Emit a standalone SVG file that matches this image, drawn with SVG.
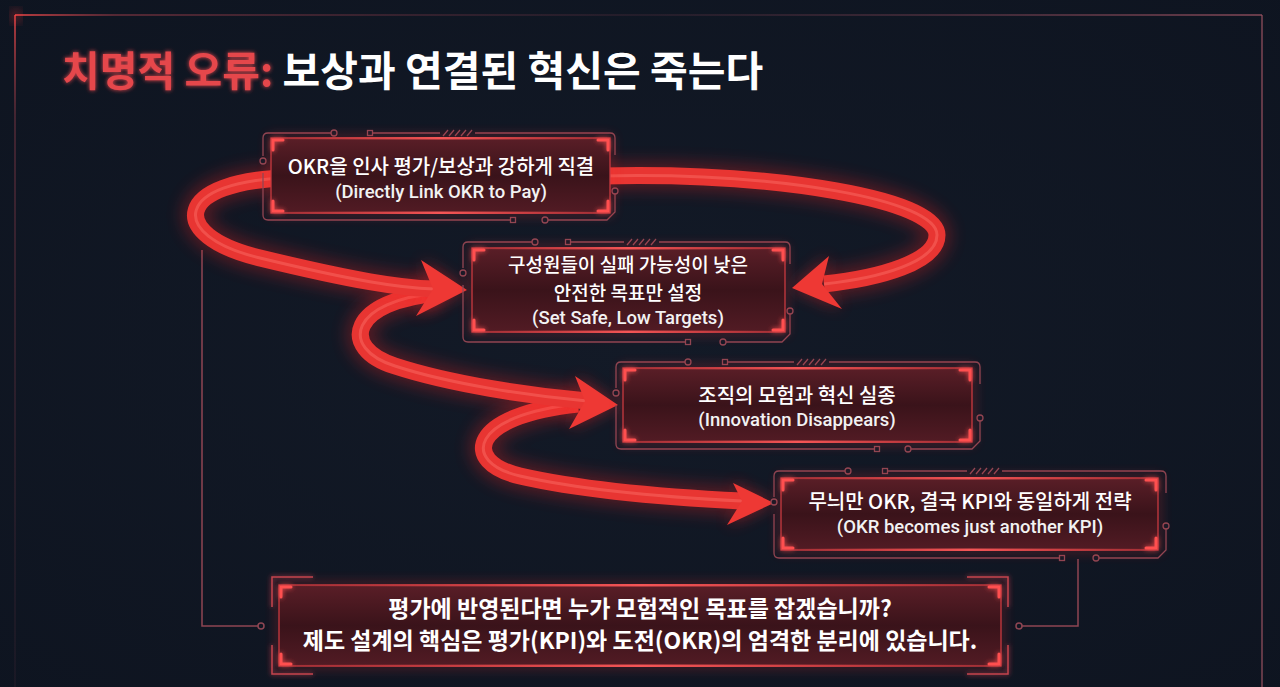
<svg xmlns="http://www.w3.org/2000/svg" width="1280" height="687" viewBox="0 0 1280 687">
<defs>
<style>
.kr{font-family:"Noto Sans CJK KR","Noto Sans",sans-serif}
.t1{font-family:"Noto Sans CJK KR","Noto Sans",sans-serif;font-size:20px;font-weight:500;fill:#ffffff;text-anchor:middle}
.t1s{font-size:19px}
.t2{font-family:Roboto,"Noto Sans CJK KR",sans-serif;font-size:18.5px;font-weight:500;fill:#f2f2f2;text-anchor:middle}
.t3{font-family:"Noto Sans CJK KR","Noto Sans",sans-serif;font-size:23px;font-weight:700;fill:#ffffff;text-anchor:middle}
.frame{fill:none;stroke:#8e4653;stroke-width:1.3}
.dot{fill:#111826;stroke:#8e4653;stroke-width:1.3}
.inner{fill:url(#boxfill);stroke:#c9393f;stroke-width:1.3}
.halo{fill:none;stroke:#ff3030;stroke-width:4;opacity:.45;filter:url(#blur6)}
.acc{fill:none;stroke:#ff5050;stroke-width:3;stroke-linecap:round;filter:url(#glow)}
.edge{fill:url(#edgeGrad)}
.bandglow{fill:none;stroke:#ff2424;stroke-width:28;opacity:.28;filter:url(#blur8)}
.band{fill:none;stroke:#e83532;stroke-width:17}
.core{fill:none;stroke:#ff7a70;stroke-width:3;opacity:.4}
.head{fill:#ee3834}
.headglow{fill:#ff2a2a;opacity:.45;filter:url(#blur8)}
.circ{fill:none;stroke:#8e4653;stroke-width:1.5}
.brk{fill:none;stroke:#c2464f;stroke-width:1.5;filter:url(#glow)}
</style>
<linearGradient id="boxfill" x1="0" y1="0" x2="0" y2="1">
<stop offset="0" stop-color="#5a1e27"/>
<stop offset="0.5" stop-color="#3a131a"/>
<stop offset="1" stop-color="#521b24"/>
</linearGradient>
<linearGradient id="edgeGrad" x1="0" y1="0" x2="1" y2="0">
<stop offset="0" stop-color="#ff4848" stop-opacity="0"/>
<stop offset="0.5" stop-color="#ff5a5a" stop-opacity="0.9"/>
<stop offset="1" stop-color="#ff4848" stop-opacity="0"/>
</linearGradient>
<linearGradient id="topLine" gradientUnits="userSpaceOnUse" x1="15" y1="0" x2="1262" y2="0">
<stop offset="0" stop-color="#ff4a4a" stop-opacity="0.95"/>
<stop offset="0.08" stop-color="#a8404c" stop-opacity="0.6"/>
<stop offset="0.5" stop-color="#5a3040" stop-opacity="0.35"/>
<stop offset="1" stop-color="#9a5262" stop-opacity="0.85"/>
</linearGradient>
<linearGradient id="leftLine" gradientUnits="userSpaceOnUse" x1="0" y1="15" x2="0" y2="687">
<stop offset="0" stop-color="#ff4a4a" stop-opacity="0.9"/>
<stop offset="0.15" stop-color="#8a3a48" stop-opacity="0.55"/>
<stop offset="1" stop-color="#4a2a38" stop-opacity="0.25"/>
</linearGradient>
<radialGradient id="bg" cx="0.5" cy="0.5" r="0.75">
<stop offset="0" stop-color="#131a27"/>
<stop offset="1" stop-color="#0e1420"/>
</radialGradient>
<filter id="blur6" x="-20%" y="-50%" width="140%" height="200%"><feGaussianBlur stdDeviation="6"/></filter>
<filter id="blur8" x="-30%" y="-60%" width="160%" height="220%"><feGaussianBlur stdDeviation="8"/></filter>
<filter id="glow" x="-50%" y="-50%" width="200%" height="200%">
<feGaussianBlur in="SourceGraphic" stdDeviation="2.5" result="b"/>
<feMerge><feMergeNode in="b"/><feMergeNode in="SourceGraphic"/></feMerge>
</filter>
<filter id="tglow" x="-10%" y="-50%" width="120%" height="200%">
<feGaussianBlur in="SourceGraphic" stdDeviation="2" result="b"/>
<feMerge><feMergeNode in="b"/><feMergeNode in="SourceGraphic"/></feMerge>
</filter>
</defs>

<rect width="1280" height="687" fill="url(#bg)"/>

<g id="outer-frame">
<path d="M15,687 V15" fill="none" stroke="url(#leftLine)" stroke-width="1.5"/>
<path d="M15,15 H1262" fill="none" stroke="url(#topLine)" stroke-width="1.5"/>
<path d="M1262,15 V687" fill="none" stroke="#9a5262" stroke-opacity="0.8" stroke-width="1.5"/>
<circle cx="16" cy="16" r="5" fill="#ff3a3a" opacity="0.6" filter="url(#blur6)"/>
</g>

<g id="title">
<text x="62" y="86" class="kr" font-size="41" font-weight="700"><tspan fill="#e5464c" filter="url(#tglow)">치명적 오류:</tspan><tspan fill="#ffffff"> 보상과 연결된 혁신은 죽는다</tspan></text>
</g>

<g id="connectors">
<g id="circuit-lines">
<path class="circ" d="M202,250 V626 H258"/>
<circle class="circ" cx="261" cy="626" r="3"/>
<path class="circ" d="M1078,559 V626 H1022"/>
<circle class="circ" cx="1019" cy="626" r="3"/>
</g>
<g id="arrow-4">
<path class="bandglow" d="M578,404 C470,415 460,462 520,476 C590,492 680,498 742,501"/>
<polygon class="headglow" points="774,503 733,483 742,501 727,525"/>
<path class="band" d="M578,404 C470,415 460,462 520,476 C590,492 680,498 742,501"/>
<path class="core" d="M578,404 C470,415 460,462 520,476 C590,492 680,498 742,501"/>
<polygon class="head" points="774,503 733,483 742,501 727,525"/>
</g>
<g id="arrow-3">
<path class="bandglow" d="M440,293 C350,300 338,348 395,366 C450,384 530,396 587,401"/>
<polygon class="headglow" points="618,405 575,376 585,401 569,429"/>
<path class="band" d="M440,293 C350,300 338,348 395,366 C450,384 530,396 587,401"/>
<path class="core" d="M440,293 C350,300 338,348 395,366 C450,384 530,396 587,401"/>
<polygon class="head" points="618,405 575,376 585,401 569,429"/>
</g>
<g id="arrow-2">
<path class="bandglow" d="M600,176 C780,172 937,200 937,235 C937,262 880,278 824,284"/>
<polygon class="headglow" points="792,288 829,256 822,284 842,309"/>
<path class="band" d="M600,176 C780,172 937,200 937,235 C937,262 880,278 824,284"/>
<path class="core" d="M600,176 C780,172 937,200 937,235 C937,262 880,278 824,284"/>
<polygon class="head" points="792,288 829,256 822,284 842,309"/>
</g>
<g id="arrow-1">
<path class="bandglow" d="M290,178 C175,180 165,235 260,258 C355,281 400,288 434,289"/>
<polygon class="headglow" points="467,290 421,260 433,289 416,316"/>
<path class="band" d="M290,178 C175,180 165,235 260,258 C355,281 400,288 434,289"/>
<path class="core" d="M290,178 C175,180 165,235 260,258 C355,281 400,288 434,289"/>
<polygon class="head" points="467,290 421,260 433,289 416,316"/>
</g>
</g>

<g id="node-1">
<path class="frame" d="M263,156 V138 Q263,133 268,133 H331 M372.5,133 H440 M475,133 H610 Q615,133 615,138 V155 M263,173 V215 Q263,220 268,220 H510.5 M548,220 H607 L615,212 V194 M443,136 l5,-6 M449,136 l5,-6 M455,136 l5,-6 M461,136 l5,-6 M467,136 l5,-6"/>
<circle class="dot" cx="334" cy="133" r="3"/><circle class="dot" cx="263" cy="161" r="3"/><circle class="dot" cx="545" cy="220" r="3"/><circle class="dot" cx="615" cy="191" r="3"/>
<rect class="dot" x="367.5" y="130.5" width="5" height="5"/><rect class="dot" x="510.5" y="217.5" width="5" height="5"/>
<rect class="halo" x="271" y="138" width="339" height="75"/>
<rect class="inner" x="271" y="138" width="339" height="75"/>
<rect class="edge" x="271" y="137" width="339" height="2.5"/><rect class="edge" x="271" y="211.5" width="339" height="2.5"/>
<path class="acc" d="M273,150 V140 H283 M598,140 H608 V150 M273,201 V211 H283 M598,211 H608 V201"/>
<text class="t1" x="441" y="174">OKR을 인사 평가/보상과 강하게 직결</text>
<text class="t2" x="441" y="198">(Directly Link OKR to Pay)</text>
</g>

<g id="node-2">
<path class="frame" d="M463,268 V247 Q463,242 468,242 H532 M570.5,242 H624 M659,242 H785 Q790,242 790,247 V264 M463,285 V337 Q463,342 468,342 H685.5 M726,342 H782 L790,334 V314 M627,245 l5,-6 M633,245 l5,-6 M639,245 l5,-6 M645,245 l5,-6 M651,245 l5,-6"/>
<circle class="dot" cx="535" cy="242" r="3"/><circle class="dot" cx="463" cy="273" r="3"/><circle class="dot" cx="723" cy="342" r="3"/><circle class="dot" cx="790" cy="311" r="3"/>
<rect class="dot" x="565.5" y="239.5" width="5" height="5"/><rect class="dot" x="685.5" y="339.5" width="5" height="5"/>
<rect class="halo" x="472" y="248" width="313" height="84"/>
<rect class="inner" x="472" y="248" width="313" height="84"/>
<rect class="edge" x="472" y="247" width="313" height="2.5"/><rect class="edge" x="472" y="330.5" width="313" height="2.5"/>
<path class="acc" d="M474,260 V250 H484 M773,250 H783 V260 M474,320 V330 H484 M773,330 H783 V320"/>
<text class="t1 t1s" x="628" y="272">구성원들이 실패 가능성이 낮은</text>
<text class="t1 t1s" x="628" y="300">안전한 목표만 설정</text>
<text class="t2" x="628" y="324">(Set Safe, Low Targets)</text>
</g>

<g id="node-3">
<path class="frame" d="M616,388 V367 Q616,362 621,362 H685 M727.5,362 H794 M829,362 H975 Q980,362 980,367 V384 M616,405 V444 Q616,449 621,449 H874.5 M911,449 H972 L980,441 V421 M797,365 l5,-6 M803,365 l5,-6 M809,365 l5,-6 M815,365 l5,-6 M821,365 l5,-6"/>
<circle class="dot" cx="688" cy="362" r="3"/><circle class="dot" cx="616" cy="393" r="3"/><circle class="dot" cx="908" cy="449" r="3"/><circle class="dot" cx="980" cy="418" r="3"/>
<rect class="dot" x="722.5" y="359.5" width="5" height="5"/><rect class="dot" x="874.5" y="446.5" width="5" height="5"/>
<rect class="halo" x="623" y="368" width="349" height="74"/>
<rect class="inner" x="623" y="368" width="349" height="74"/>
<rect class="edge" x="623" y="367" width="349" height="2.5"/><rect class="edge" x="623" y="440.5" width="349" height="2.5"/>
<path class="acc" d="M625,380 V370 H635 M960,370 H970 V380 M625,430 V440 H635 M960,440 H970 V430"/>
<text class="t1" x="797" y="403">조직의 모험과 혁신 실종</text>
<text class="t2" x="797" y="426">(Innovation Disappears)</text>
</g>

<g id="node-4">
<path class="frame" d="M774,497 V476 Q774,471 779,471 H845 M887.5,471 H967 M1002,471 H1161 Q1166,471 1166,476 V493 M774,514 V553 Q774,558 779,558 H1059.5 M1099,558 H1158 L1166,550 V529 M970,474 l5,-6 M976,474 l5,-6 M982,474 l5,-6 M988,474 l5,-6 M994,474 l5,-6"/>
<circle class="dot" cx="848" cy="471" r="3"/><circle class="dot" cx="774" cy="502" r="3"/><circle class="dot" cx="1096" cy="558" r="3"/><circle class="dot" cx="1166" cy="526" r="3"/>
<rect class="dot" x="882.5" y="468.5" width="5" height="5"/><rect class="dot" x="1059.5" y="555.5" width="5" height="5"/>
<rect class="halo" x="781" y="478" width="377" height="72"/>
<rect class="inner" x="781" y="478" width="377" height="72"/>
<rect class="edge" x="781" y="477" width="377" height="2.5"/><rect class="edge" x="781" y="548.5" width="377" height="2.5"/>
<path class="acc" d="M783,490 V480 H793 M1146,480 H1156 V490 M783,538 V548 H793 M1146,548 H1156 V538"/>
<text class="t1" x="970" y="509">무늬만 OKR, 결국 KPI와 동일하게 전략</text>
<text class="t2" x="970" y="533">(OKR becomes just another KPI)</text>
</g>

<g id="node-5">
<path class="brk" d="M272,607 V577 H313 M272,645 V674 H313 M1008,607 V577 H967 M1008,645 V674 H967"/>
<rect class="halo" x="279" y="585" width="722" height="81"/>
<rect class="inner" x="279" y="585" width="722" height="81"/>
<rect class="edge" x="279" y="584" width="722" height="2.5"/><rect class="edge" x="279" y="664.5" width="722" height="2.5"/>
<path class="acc" d="M281,597 V587 H291 M989,587 H999 V597 M281,654 V664 H291 M989,664 H999 V654"/>
<text class="t3" x="640" y="617">평가에 반영된다면 누가 모험적인 목표를 잡겠습니까?</text>
<text class="t3" x="640" y="649">제도 설계의 핵심은 평가(KPI)와 도전(OKR)의 엄격한 분리에 있습니다.</text>
</g>
</svg>
